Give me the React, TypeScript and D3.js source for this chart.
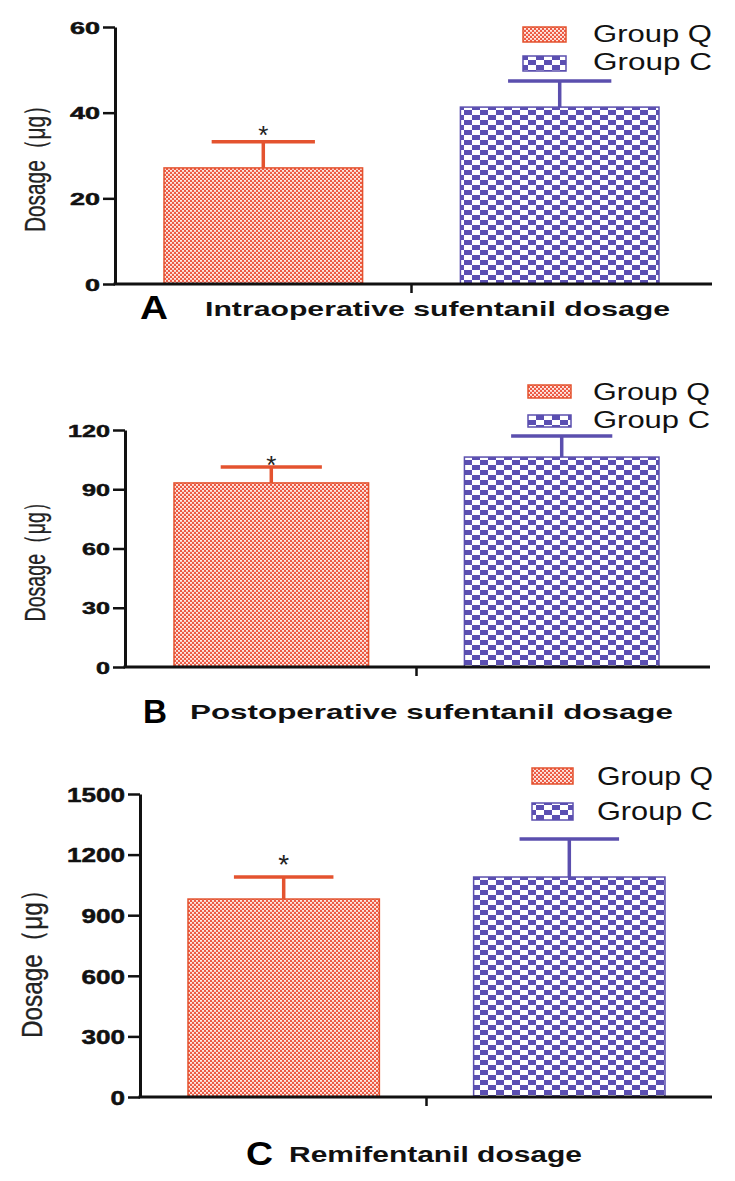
import React, { useEffect, useRef } from "react";
import * as d3 from "d3";

const groups = ["Group Q", "Group C"];
const panelLetters = ["A", "B", "C"];
const panelTitles = [
  "Intraoperative sufentanil dosage",
  "Postoperative sufentanil dosage",
  "Remifentanil dosage",
];
const yLabel = "Dosage（μg）";

const intraMeans = [27.1, 41.3];
const intraSD = [6.1, 6.1];
const postMeans = [93.2, 106.3];
const postSD = [8.1, 10.7];
const remiMeans = [980, 1089];
const remiSD = [109, 188];

const intraTicks = [0, 20, 40, 60];
const postTicks = [0, 30, 60, 90, 120];
const remiTicks = [0, 300, 600, 900, 1200, 1500];

const significance = ["*", ""];

const colors = ["#e4532f", "#5b4fae"];
const patIds = ["patQ", "patC"];
const FONT = "'Liberation Sans', Arial, Helvetica, sans-serif";

const layouts = [
  {
    axisX: 115, yTop: 27, yBottom: 284, xEnd: 712, barStart: 164, barEnd: 659,
    tickFs: 17, digitW: 15, labelX: 45, labelCy: 163.5, labelLen: 137, labelFs: 30,
    letterX: 140, letterY: 319, letterFs: 34, letterW: 28,
    titleX: 205, titleY: 316, titleFs: 21, titleW: 465,
    legX: 523, legW: 43, legRows: [{ y: 27, h: 15, base: 42 }, { y: 56, h: 15, base: 70 }],
    legTextX: 593, legTextW: 119, legFs: 23, starFs: 26, starGap: 9,
  },
  {
    axisX: 125, yTop: 430, yBottom: 667, xEnd: 710, barStart: 174, barEnd: 659,
    tickFs: 17, digitW: 14, labelX: 45, labelCy: 557, labelLen: 129, labelFs: 30,
    letterX: 143, letterY: 723, letterFs: 34, letterW: 24,
    titleX: 190, titleY: 719, titleFs: 21, titleW: 483,
    legX: 528, legW: 43, legRows: [{ y: 385, h: 13, base: 400 }, { y: 415, h: 12, base: 428 }],
    legTextX: 593, legTextW: 117, legFs: 23, starFs: 26, starGap: 4,
  },
  {
    axisX: 140, yTop: 794, yBottom: 1097, xEnd: 712, barStart: 188, barEnd: 665,
    tickFs: 20, digitW: 14.5, labelX: 42, labelCy: 958, labelLen: 160, labelFs: 30,
    letterX: 246, letterY: 1165, letterFs: 34, letterW: 27,
    titleX: 289, titleY: 1162, titleFs: 22, titleW: 293,
    legX: 532, legW: 41, legRows: [{ y: 768, h: 16, base: 785 }, { y: 803, h: 17, base: 820 }],
    legTextX: 597, legTextW: 116, legFs: 25, starFs: 28, starGap: 15,
  },
];

export default function App() {
  const ref = useRef<SVGSVGElement>(null);

  useEffect(() => {
    const svg = d3.select(ref.current);
    svg.selectAll("*").remove();

    const defs = svg.append("defs");
    const pq = defs.append("pattern").attr("id", "patQ")
      .attr("patternUnits", "userSpaceOnUse").attr("width", 4).attr("height", 4);
    pq.append("rect").attr("width", 4).attr("height", 4).attr("fill", "#ec5a44");
    pq.append("rect").attr("x", 0).attr("y", 0).attr("width", 2).attr("height", 1.8).attr("fill", "#fde8e2");
    pq.append("rect").attr("x", 2).attr("y", 2).attr("width", 2).attr("height", 1.8).attr("fill", "#fde8e2");

    const pc = defs.append("pattern").attr("id", "patC")
      .attr("patternUnits", "userSpaceOnUse").attr("width", 16).attr("height", 10);
    pc.append("rect").attr("width", 16).attr("height", 10).attr("fill", "#ffffff");
    pc.append("rect").attr("x", 0).attr("y", 0).attr("width", 8).attr("height", 5).attr("fill", "#5b4fb2");
    pc.append("rect").attr("x", 8).attr("y", 5).attr("width", 8).attr("height", 5).attr("fill", "#5b4fb2");

    const panels = [
      { means: intraMeans, sds: intraSD, ticks: intraTicks },
      { means: postMeans, sds: postSD, ticks: postTicks },
      { means: remiMeans, sds: remiSD, ticks: remiTicks },
    ];

    panels.forEach((p, i) => {
      const L = layouts[i];
      const g = svg.append("g");
      const y = d3.scaleLinear().domain([0, d3.max(p.ticks) as number]).range([L.yBottom, L.yTop]);
      const x = d3.scaleBand().domain(groups).range([L.barStart, L.barEnd]).paddingInner(0.33).paddingOuter(0);
      const bw = x.bandwidth();

      // bars
      g.selectAll("rect.bar").data(groups).join("rect")
        .attr("class", "bar")
        .attr("x", (d) => x(d) as number)
        .attr("y", (d, j) => y(p.means[j]))
        .attr("width", bw)
        .attr("height", (d, j) => y(0) - y(p.means[j]))
        .attr("fill", (d, j) => `url(#${patIds[j]})`)
        .attr("stroke", (d, j) => colors[j])
        .attr("stroke-width", 1.5);

      // error bars
      groups.forEach((gr, j) => {
        const cx = (x(gr) as number) + bw / 2;
        const top = y(p.means[j] + p.sds[j]);
        const capW = bw * 0.52;
        g.append("line").attr("x1", cx).attr("x2", cx)
          .attr("y1", y(p.means[j])).attr("y2", top)
          .attr("stroke", colors[j]).attr("stroke-width", 3.5);
        g.append("line").attr("x1", cx - capW / 2).attr("x2", cx + capW / 2)
          .attr("y1", top).attr("y2", top)
          .attr("stroke", colors[j]).attr("stroke-width", 3.5);
        if (significance[j]) {
          g.append("text").attr("x", cx)
            .attr("y", top - L.starGap + 0.44 * L.starFs)
            .attr("text-anchor", "middle")
            .attr("font-family", FONT).attr("font-size", L.starFs)
            .attr("fill", "#222").text(significance[j]);
        }
      });

      // y axis
      const ax = g.append("g").attr("transform", `translate(${L.axisX},0)`)
        .call(d3.axisLeft(y).tickValues(p.ticks).tickSize(12).tickPadding(3).tickSizeOuter(0).tickFormat(d3.format("d")));
      ax.attr("font-family", FONT).attr("font-size", L.tickFs).attr("font-weight", "bold");
      ax.select(".domain").attr("stroke", "#111").attr("stroke-width", 3);
      ax.selectAll(".tick line").attr("stroke", "#111").attr("stroke-width", 2.5);
      ax.selectAll(".tick text").attr("fill", "#111")
        .attr("stroke", "#111").attr("stroke-width", 0.5)
        .attr("dy", "0.36em")
        .attr("textLength", (d: any) => String(d).length * L.digitW)
        .attr("lengthAdjust", "spacingAndGlyphs");

      // x axis
      g.append("line").attr("x1", L.axisX - 1.5).attr("x2", L.xEnd)
        .attr("y1", L.yBottom).attr("y2", L.yBottom)
        .attr("stroke", "#111").attr("stroke-width", 3);
      const mid = ((x(groups[0]) as number) + bw + (x(groups[1]) as number)) / 2;
      g.append("line").attr("x1", mid).attr("x2", mid)
        .attr("y1", L.yBottom).attr("y2", L.yBottom + 9)
        .attr("stroke", "#111").attr("stroke-width", 2.5);

      // y label
      g.append("text")
        .attr("transform", `translate(${L.labelX},${L.labelCy}) rotate(-90)`)
        .attr("text-anchor", "middle")
        .attr("font-family", FONT).attr("font-size", L.labelFs)
        .attr("fill", "#222")
        .attr("stroke", "#222").attr("stroke-width", 0.3)
        .attr("textLength", L.labelLen).attr("lengthAdjust", "spacingAndGlyphs")
        .text(yLabel);

      // legend
      groups.forEach((gr, j) => {
        const r = L.legRows[j];
        g.append("rect").attr("x", L.legX).attr("y", r.y).attr("width", L.legW).attr("height", r.h)
          .attr("fill", `url(#${patIds[j]})`).attr("stroke", colors[j]).attr("stroke-width", 1.5);
        g.append("text").attr("x", L.legTextX).attr("y", r.base)
          .attr("font-family", FONT).attr("font-size", L.legFs).attr("fill", "#111")
          .attr("textLength", L.legTextW).attr("lengthAdjust", "spacingAndGlyphs")
          .text(gr);
      });

      // panel title
      g.append("text").attr("x", L.letterX).attr("y", L.letterY)
        .attr("font-family", FONT).attr("font-size", L.letterFs).attr("font-weight", "bold")
        .attr("fill", "#000")
        .attr("textLength", L.letterW).attr("lengthAdjust", "spacingAndGlyphs")
        .text(panelLetters[i]);
      g.append("text").attr("x", L.titleX).attr("y", L.titleY)
        .attr("font-family", FONT).attr("font-size", L.titleFs).attr("font-weight", "bold")
        .attr("fill", "#111")
        .attr("textLength", L.titleW).attr("lengthAdjust", "spacingAndGlyphs")
        .text(panelTitles[i]);
    });
  }, []);

  return (
    <svg
      ref={ref}
      width={735}
      height={1181}
      style={{ position: "absolute", left: 0, top: 0, background: "#fff", display: "block" }}
    />
  );
}
